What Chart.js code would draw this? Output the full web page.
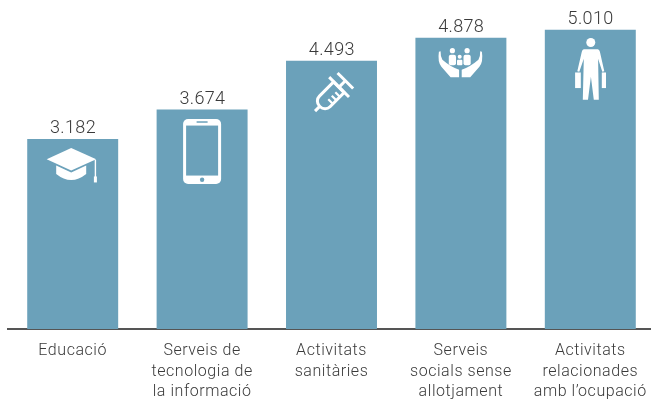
<!DOCTYPE html>
<html><head><meta charset="utf-8">
<style>html,body{margin:0;padding:0;background:#fff;overflow:hidden;width:651px;height:401px}
#w{position:absolute;left:0;top:0;width:655px;height:401px}</style>
<script src="https://cdn.jsdelivr.net/npm/chart.js@4/dist/chart.umd.min.js"></script>
</head><body><div id="w"><canvas id="c"></canvas></div>
<script>
const categories=[["Educació"],["Serveis de","tecnologia de","la informació"],["Activitats","sanitàries"],["Serveis","socials sense","allotjament"],["Activitats","relacionades","amb l’ocupació"]];
const values=[3182,3674,4493,4878,5010];
const valueLabels=["3.182","3.674","4.493","4.878","5.010"];
const BAR="#6ba1ba", INK="#3a3a3a";

function rr(g,x,y,w,h,r){g.beginPath();g.roundRect(x,y,w,h,r);}
const icons=[
 function cap(g){ // origin: bar top centre
  g.beginPath();g.moveTo(-1.5,9);g.lineTo(23.5,20.3);g.lineTo(-1.5,31.5);g.lineTo(-26,20.3);g.closePath();g.fill();
  g.beginPath();g.moveTo(-16.5,26.5);g.lineTo(-1.5,33.5);g.lineTo(13.5,26.5);g.lineTo(13.5,35);g.quadraticCurveTo(-1.5,47,-16.5,35);g.closePath();g.fill();
  g.fillRect(22,21,1.4,18);g.fillRect(21.2,37.5,3,6);
 },
 function phone(g){
  g.fillStyle="#fff";rr(g,-19,9.5,38,65,5);g.fill();
  g.fillStyle=BAR;g.fillRect(-16,16,32,50);
  g.fillRect(-5.5,11.7,11,1.5);
  g.beginPath();g.arc(0,70.2,2.2,0,7);g.fill();
 },
 function syringe(g){
  g.translate(1,33);g.rotate(-Math.PI/4);g.strokeStyle="#fff";g.lineCap="butt";
  g.lineWidth=3;
  g.beginPath();g.moveTo(-24.7,0);g.lineTo(-18,0);g.stroke();
  rr(g,-18,-7.5,27,15,[7,0,0,7]);g.stroke();
  g.beginPath();g.moveTo(9.3,-14);g.lineTo(9.3,14);g.stroke();
  g.beginPath();g.moveTo(9.3,0);g.lineTo(18.2,0);g.stroke();
  g.beginPath();g.moveTo(18.2,-11);g.lineTo(18.2,11);g.stroke();
  g.lineWidth=2.2;
  [-7,-2,3].forEach(x=>{g.beginPath();g.moveTo(x,7);g.lineTo(x,1);g.stroke();});
 },
 function hands(g){
  [[-8.5,0],[6.2,0]].forEach(p=>{g.beginPath();g.arc(p[0],13,2.6,0,7);g.fill();rr(g,p[0]-3.6,17,7.2,10.5,2);g.fill();});
  g.beginPath();g.arc(-1.2,19,2,0,7);g.fill();rr(g,-3.9,22,5.4,5.5,1);g.fill();
  [1,-1].forEach(s=>{g.save();g.translate(-0.5,0);g.scale(s,1);
   g.beginPath();g.moveTo(-21.5,14);g.lineTo(-19.8,13.5);g.quadraticCurveTo(-20,19,-18,22);g.quadraticCurveTo(-10,29,-1.3,32);g.lineTo(-1.3,39.7);g.lineTo(-9.8,39.7);g.lineTo(-19,29);g.quadraticCurveTo(-23,24,-21.5,14);g.closePath();g.fill();g.restore();});
 },
 function person(g){
  g.beginPath();g.arc(0.5,12.7,4.5,0,7);g.fill();
  g.beginPath();g.moveTo(-6.5,19.5);g.lineTo(7.5,19.5);g.quadraticCurveTo(9,19.5,9.6,22);g.lineTo(14,41.5);g.lineTo(12,42);g.lineTo(7.8,29);g.lineTo(8.5,70);g.lineTo(3.5,70);g.lineTo(0.6,47);g.lineTo(-2.3,70);g.lineTo(-7.5,70);g.lineTo(-6.5,29);g.lineTo(-11,42);g.lineTo(-13,41.5);g.lineTo(-8.5,22);g.quadraticCurveTo(-8,19.5,-6.5,19.5);g.closePath();g.fill();
  g.fillRect(-15.2,42.7,5.7,15.6);g.fillRect(11.5,42.7,4.2,15.6);
 }
];
const overlay={id:"overlay",
 beforeDraw(ch){ch.ctx.letterSpacing="0.55px";},
 afterDatasetsDraw(ch){
 const g=ch.ctx,m=ch.getDatasetMeta(0);
 m.data.forEach((b,i)=>{
  g.save();g.fillStyle=INK;g.textAlign="center";g.textBaseline="alphabetic";
  g.font='300 18px Roboto';g.letterSpacing="0.35px";
  g.fillText(valueLabels[i],b.x+0.3,b.y-6);g.restore();
  g.save();g.translate(b.x,b.y);g.fillStyle="#fff";icons[i](g);g.restore();
 });
}};
new Chart(document.getElementById("c"),{
 type:"bar",
 data:{labels:categories,datasets:[{data:values,backgroundColor:BAR,borderWidth:0,categoryPercentage:1,barPercentage:0.703}]},
 plugins:[overlay],
 options:{responsive:true,maintainAspectRatio:false,animation:false,
  devicePixelRatio:1,
  layout:{padding:{left:8,right:0,top:0.5,bottom:0}},
  plugins:{legend:{display:false},tooltip:{enabled:false}},
  scales:{
   x:{afterFit(s){s.height=72;},
      grid:{display:false,drawTicks:false},
      border:{display:true,color:"#555",width:2},
      ticks:{color:INK,padding:12,maxRotation:0,minRotation:0,autoSkip:false,font:{family:"Roboto",weight:"300",size:16,lineHeight:1.28}}},
   y:{display:false,min:0,max:5500}
  }}
});
</script></body></html>
